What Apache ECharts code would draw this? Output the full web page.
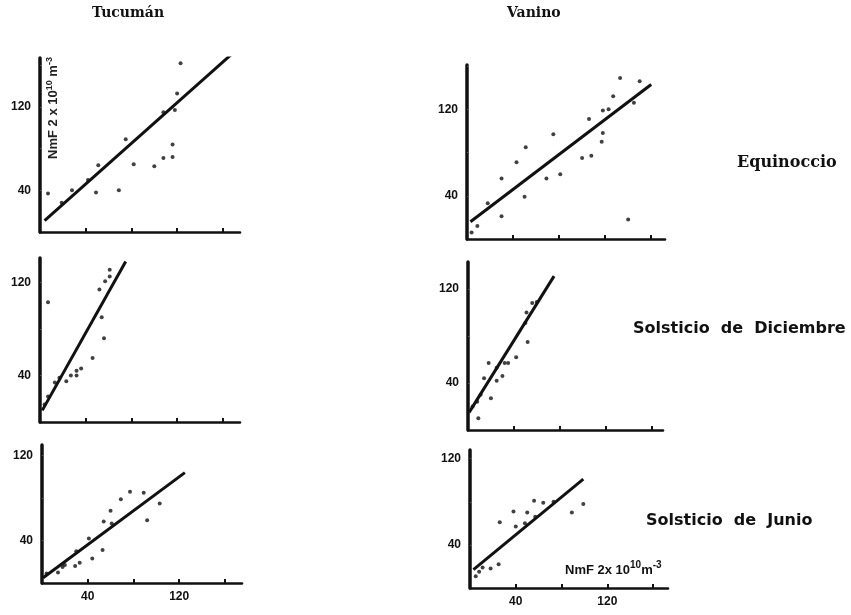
<!DOCTYPE html>
<html>
<head>
    <meta charset="utf-8">
    <script src="https://cdn.jsdelivr.net/npm/echarts@6/dist/echarts.min.js"></script>
</head>
<body style="margin:0;background:#fff">
<div id="main" style="width: 851px;height:615px;"></div>
<script type="text/javascript">
    var tucumanEquinoccio = [[7,37],[19,28],[28,40],[42,50],[51,64],[49,38],[69,40],[75,89],[82,65],[100,63],
        [108,71],[108,115],[116,72],[116,84],[118,117],[120,133],[123,162],[153,171]];
    var tucumanDiciembre = [[7,103],[52,114],[57,121],[61,131],[61,125],[54,90],[56,72],[46,55],[36,46],[32,44],
        [32,40],[27,40],[23,35],[17,38],[13,34],[7,22],[4,15]];
    var tucumanJunio = [[4,9],[14,10],[18,15],[20,17],[29,16],[33,19],[30,30],[44,23],[41,42],[53,31],
        [54,58],[60,68],[61,56],[69,79],[77,86],[89,85],[92,59],[103,75]];
    var vaninoEquinoccio = [[4,6],[9,12],[18,33],[30,21],[30,56],[43,71],[50,39],[51,85],[69,56],[75,97],
        [81,60],[100,75],[108,77],[106,111],[117,90],[118,98],[118,119],[123,120],[127,132],[133,149],
        [140,18],[145,126],[150,146]];
    var vaninoDiciembre = [[9,10],[4,20],[8,24],[11,30],[14,44],[18,57],[20,27],[25,42],[25,53],[30,46],
        [32,57],[35,57],[42,62],[52,75],[50,91],[51,100],[56,108],[60,109]];
    var vaninoJunio = [[5,11],[8,15],[11,19],[18,18],[25,22],[26,61],[38,71],[40,57],[48,60],[50,70],
        [56,81],[57,66],[64,79],[73,80],[89,70],[99,78]];

    // rectas de regresion (extremos)
    var rectaTucEq = [[4,11],[167,170]];
    var rectaTucDic = [[2,10],[75,138]];
    var rectaTucJun = [[1,5],[125,104]];
    var rectaVanEq = [[3,16],[160,143]];
    var rectaVanDic = [[1,15],[75,131]];
    var rectaVanJun = [[3,17],[99,101]];

    var xTicks = [40, 80, 120, 160];
    var yTicks = [40, 80, 120, 160];
    var yLabels = [40, 120];
    var xLabels = [40, 120];

    var panels = [
        {pts: tucumanEquinoccio, line: rectaTucEq, g: {left: 40, top: 58, width: 200, height: 174}, xmax: 175, ymax: 167, xl: false},
        {pts: tucumanDiciembre, line: rectaTucDic, g: {left: 40, top: 258, width: 200, height: 164}, xmax: 175, ymax: 141, xl: false},
        {pts: tucumanJunio, line: rectaTucJun, g: {left: 42, top: 445, width: 200, height: 138}, xmax: 175, ymax: 130, xl: true},
        {pts: vaninoEquinoccio, line: rectaVanEq, g: {left: 467, top: 65, width: 198, height: 174}, xmax: 172, ymax: 161, xl: false},
        {pts: vaninoDiciembre, line: rectaVanDic, g: {left: 468, top: 262, width: 195, height: 168}, xmax: 170, ymax: 143, xl: false},
        {pts: vaninoJunio, line: rectaVanJun, g: {left: 470, top: 450, width: 198, height: 138}, xmax: 173, ymax: 128, xl: true}
    ];

    var labelFont = {color: '#111', fontWeight: 'bold', fontSize: 12, fontFamily: 'Liberation Sans'};
    var grid = [], xAxis = [], yAxis = [], series = [];
    panels.forEach(function (p, i) {
        grid.push(p.g);
        xAxis.push({
            type: 'value', gridIndex: i, min: 0, max: p.xmax,
            splitLine: {show: false},
            axisLine: {lineStyle: {color: '#111', width: 2.5}},
            axisTick: {show: true, inside: true, length: 4, lineStyle: {color: '#111', width: 2},
                customValues: xTicks.filter(function (v) { return v < p.xmax; })},
            axisLabel: Object.assign({show: p.xl, margin: 8, customValues: xLabels}, labelFont)
        });
        yAxis.push({
            type: 'value', gridIndex: i, min: 0, max: p.ymax,
            splitLine: {show: false},
            axisLine: {lineStyle: {color: '#111', width: 3.5}},
            axisTick: {show: true, inside: true, length: 2, lineStyle: {color: '#555', width: 1},
                customValues: yTicks.filter(function (v) { return v < p.ymax; })},
            axisLabel: Object.assign({margin: 9, customValues: yLabels}, labelFont)
        });
        series.push({
            type: 'scatter', xAxisIndex: i, yAxisIndex: i, data: p.pts,
            symbolSize: 4, itemStyle: {color: '#111'}, silent: true
        });
        series.push({
            type: 'line', xAxisIndex: i, yAxisIndex: i, data: p.line,
            showSymbol: false, lineStyle: {color: '#111', width: 3}, silent: true
        });
    });

    var titleFont = 'bold 14px "DejaVu Serif"';
    var rowFont = 'bold 16px "DejaVu Sans"';
    var option = {
        backgroundColor: '#fff',
        animation: false,
        grid: grid, xAxis: xAxis, yAxis: yAxis, series: series,
        graphic: [
            {type: 'text', left: 92, top: 6, style: {text: 'Tucumán', font: titleFont, fill: '#111'}},
            {type: 'text', left: 507, top: 6, style: {text: 'Vanino', font: titleFont, fill: '#111'}},
            {type: 'text', left: 737, top: 155, style: {text: 'Equinoccio', font: 'bold 16px "DejaVu Serif"', fill: '#111'}},
            {type: 'text', left: 633, top: 321, style: {text: 'Solsticio  de  Diciembre', font: rowFont, fill: '#111'}},
            {type: 'text', left: 646, top: 513, style: {text: 'Solsticio  de  Junio', font: rowFont, fill: '#111'}},
            {type: 'text', x: 53, y: 108, rotation: Math.PI / 2,
                style: {text: 'NmF 2 x 10{s|10} m{s|-3}', font: 'bold 13px "Liberation Sans"', fill: '#222',
                    align: 'center', verticalAlign: 'middle',
                    rich: {s: {fontSize: 9, fontWeight: 'bold', padding: [0, 0, 7, 0]}}}},
            {type: 'text', x: 565, y: 570,
                style: {text: 'NmF 2x 10{s|10}m{s|-3}', font: 'bold 13px "Liberation Sans"', fill: '#111',
                    verticalAlign: 'middle',
                    rich: {s: {fontSize: 10, fontWeight: 'bold', padding: [0, 0, 9, 0]}}}}
        ]
    };

    var myChart = echarts.init(document.getElementById('main'));
    myChart.setOption(option);
</script>
</body>
</html>
